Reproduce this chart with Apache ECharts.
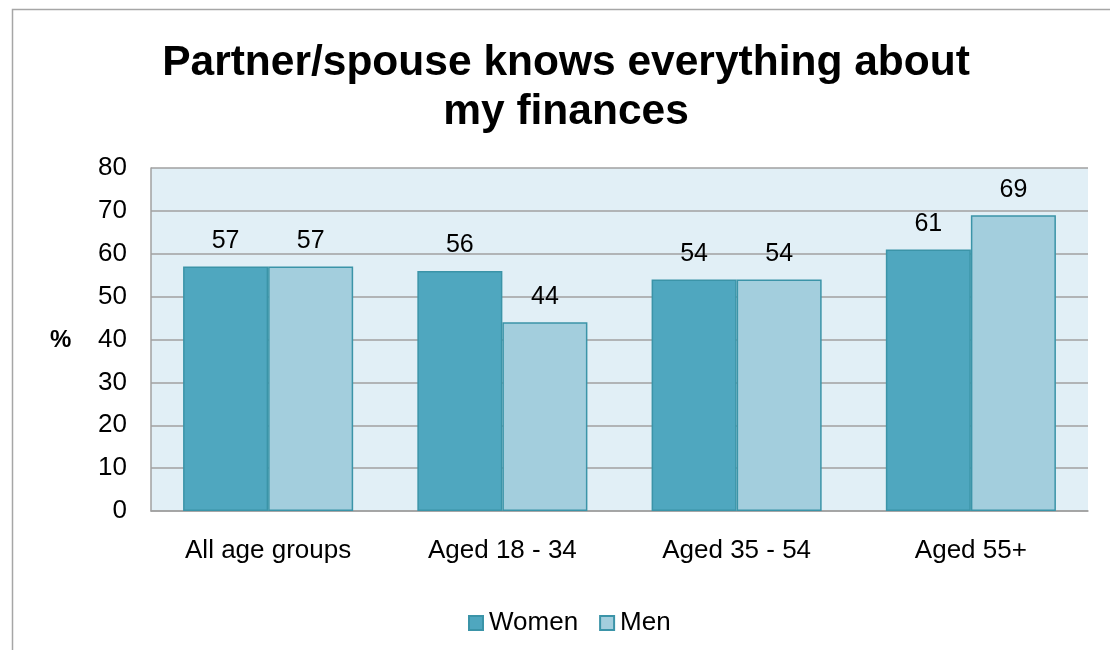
<!DOCTYPE html>
<html>
<head>
<meta charset="utf-8">
<script src="https://cdn.jsdelivr.net/npm/echarts@6/dist/echarts.min.js"></script>
<style>
  html, body { margin: 0; padding: 0; background: #ffffff; }
  #chart { width: 1110px; height: 650px; }
</style>
</head>
<body>
<div id="chart"></div>
<script>
const categories = ['All age groups', 'Aged 18 - 34', 'Aged 35 - 54', 'Aged 55+'];
const women = [57, 56, 54, 61];
const men = [57, 44, 54, 69];
const yTicks = { min: 0, max: 80, interval: 10 };

const font = 'Liberation Sans, Arial, sans-serif';
const chart = echarts.init(document.getElementById('chart'));

const barLabel = {
  show: true,
  position: 'top',
  distance: 13,
  color: '#000',
  fontFamily: font,
  fontSize: 25
};

chart.setOption({
  animation: false,
  backgroundColor: '#ffffff',
  title: {
    text: 'Partner/spouse knows everything about\nmy finances',
    left: 561,
    textAlign: 'center',
    top: 34,
    textStyle: {
      fontFamily: font,
      fontWeight: 'bold',
      fontSize: 42.5,
      lineHeight: 49,
      color: '#000'
    }
  },
  graphic: [
    {
      type: 'rect',
      shape: { x: 12.5, y: 9.5, width: 1200, height: 700 },
      style: { fill: 'none', stroke: '#a6a6a6', lineWidth: 1.5 },
      silent: true
    },
    {
      type: 'text',
      left: 50,
      top: 328,
      style: { text: '%', fontFamily: font, fontWeight: 'bold', fontSize: 24, fill: '#000' }
    }
  ],
  legend: {
    data: ['Women', 'Men'],
    left: 463,
    top: 605,
    itemWidth: 14,
    itemHeight: 14,
    itemGap: 21,
    icon: 'rect',
    textStyle: { fontFamily: font, fontSize: 26, color: '#000', padding: [0, 0, 0, 1] }
  },
  grid: {
    left: 151,
    right: 22,
    top: 168,
    bottom: 139,
    show: true,
    backgroundColor: '#e1eff6',
    borderWidth: 0
  },
  xAxis: {
    type: 'category',
    data: categories,
    axisLine: { show: true, lineStyle: { color: '#a0a0a0', width: 1.5 } },
    axisTick: { show: false },
    axisLabel: { fontFamily: font, fontSize: 26, color: '#000', margin: 27 }
  },
  yAxis: {
    type: 'value',
    min: yTicks.min,
    max: yTicks.max,
    interval: yTicks.interval,
    axisLine: { show: true, lineStyle: { color: '#a0a0a0', width: 1.5 } },
    axisTick: { show: false },
    axisLabel: { fontFamily: font, fontSize: 26, color: '#000', margin: 24 },
    splitLine: { show: true, lineStyle: { color: '#a0a0a0', width: 1.5 } }
  },
  series: [
    {
      name: 'Women',
      type: 'bar',
      data: women,
      barWidth: '36.3%',
      barGap: '0%',
      itemStyle: { color: '#4fa7bf', borderColor: '#3b94a8', borderWidth: 1.5 },
      label: barLabel
    },
    {
      name: 'Men',
      type: 'bar',
      data: men,
      barWidth: '36.3%',
      itemStyle: { color: '#a3cedd', borderColor: '#3b94a8', borderWidth: 1.5 },
      label: barLabel
    }
  ]
});
</script>
</body>
</html>
